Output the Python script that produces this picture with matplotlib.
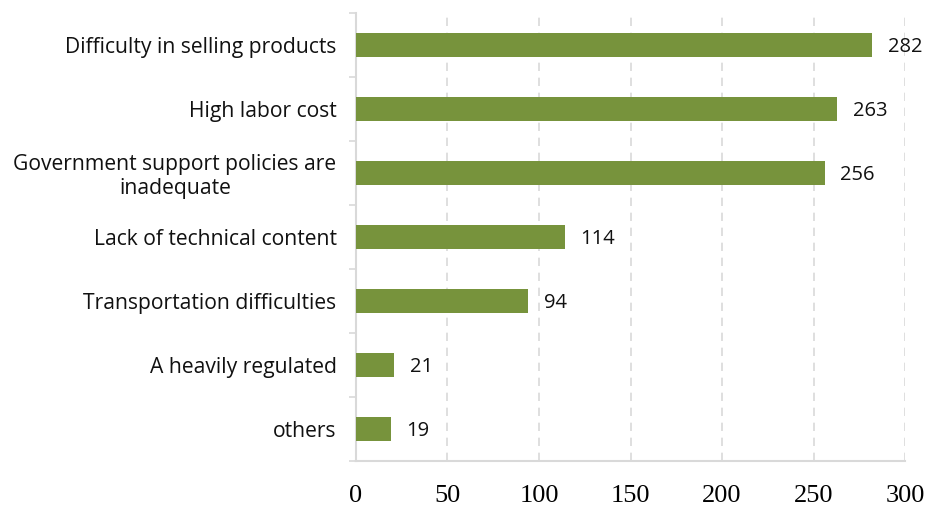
import matplotlib
matplotlib.use('Agg')
import matplotlib.pyplot as plt
import numpy as np

categories = ['Difficulty in selling products', 'High labor cost',
              'Government support policies are\ninadequate',
              'Lack of technical content', 'Transportation difficulties',
              'A heavily regulated', 'others']
counts = [282, 263, 256, 114, 94, 21, 19]
xticks = [0, 50, 100, 150, 200, 250, 300]

bar_color = '#77933C'
axis_color = '#D9D9D9'

fig = plt.figure(figsize=(9.29, 5.05), dpi=100)
ax = fig.add_axes([0.3832, 0.0871, 0.5910, 0.8872])

y = np.arange(len(categories))[::-1]
ax.barh(y, counts, height=0.39, color=bar_color, zorder=3)

for yi, v in zip(y, counts):
    ax.text(v + 8.5, yi - 0.03, str(v), va='center', ha='left', fontsize=14.5,
            family='Open Sans', color='#111111')

ax.set_xlim(0, 300)
ax.set_ylim(-0.5, len(categories) - 0.5)
ax.set_xticks(xticks)
ax.set_xticklabels([str(t) for t in xticks], family='Liberation Serif', fontsize=19)
ax.tick_params(axis='x', length=0, pad=17)

ax.set_yticks(y)
labels = ax.set_yticklabels(categories, family='Open Sans', fontsize=15.2, color='#111111')
for lb in labels:
    lb.set_multialignment('center')
    lb.set_linespacing(1.15)
ax.tick_params(axis='y', which='major', length=0, pad=14)
ax.set_yticks(np.arange(-0.5, len(categories), 1.0), minor=True)
ax.tick_params(axis='y', which='minor', length=5, color=axis_color, width=1.2)

ax.grid(True, axis='x', linestyle=(0, (5, 4)), color='#D9D9D9', linewidth=1.2, zorder=0)

ax.spines['top'].set_visible(False)
ax.spines['right'].set_visible(False)
ax.spines['left'].set_color(axis_color)
ax.spines['bottom'].set_color(axis_color)
ax.spines['left'].set_linewidth(1.5)
ax.spines['bottom'].set_linewidth(1.5)

fig.savefig('out.png', dpi=100)
